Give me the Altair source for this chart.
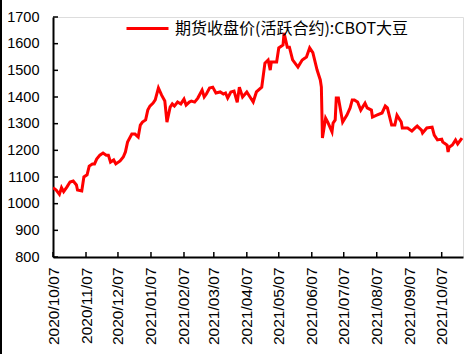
import altair as alt
import pandas as pd

series_name = "期货收盘价(活跃合约):CBOT大豆"

dates = [
    "2020/10/07", "2020/10/10", "2020/10/13", "2020/10/15", "2020/10/17", "2020/10/20",
    "2020/10/23", "2020/10/26", "2020/10/29", "2020/10/30", "2020/11/03", "2020/11/05",
    "2020/11/08", "2020/11/10", "2020/11/13", "2020/11/15", "2020/11/17", "2020/11/20",
    "2020/11/23", "2020/11/26", "2020/11/28", "2020/11/30", "2020/12/03", "2020/12/05",
    "2020/12/09", "2020/12/12", "2020/12/14", "2020/12/16", "2020/12/20", "2020/12/23",
    "2020/12/26", "2020/12/28", "2020/12/30", "2021/01/02", "2021/01/04", "2021/01/06",
    "2021/01/09", "2021/01/11", "2021/01/13", "2021/01/14", "2021/01/17", "2021/01/20",
    "2021/01/22", "2021/01/25", "2021/01/27", "2021/01/29", "2021/02/01", "2021/02/04",
    "2021/02/07", "2021/02/09", "2021/02/12", "2021/02/14", "2021/02/17", "2021/02/20",
    "2021/02/24", "2021/02/26", "2021/02/28", "2021/03/03", "2021/03/06", "2021/03/09",
    "2021/03/13", "2021/03/16", "2021/03/18", "2021/03/20", "2021/03/23", "2021/03/26",
    "2021/03/29", "2021/03/31", "2021/04/03", "2021/04/07", "2021/04/10", "2021/04/13",
    "2021/04/16", "2021/04/21", "2021/04/24", "2021/04/27", "2021/04/29", "2021/04/30",
    "2021/05/05", "2021/05/07", "2021/05/11", "2021/05/12", "2021/05/15", "2021/05/17",
    "2021/05/20", "2021/05/25", "2021/05/29", "2021/06/02", "2021/06/05", "2021/06/08",
    "2021/06/12", "2021/06/15", "2021/06/16", "2021/06/17", "2021/06/20", "2021/06/22",
    "2021/06/26", "2021/06/27", "2021/06/29", "2021/06/30", "2021/07/02", "2021/07/06",
    "2021/07/10", "2021/07/13", "2021/07/15", "2021/07/17", "2021/07/20", "2021/07/23",
    "2021/07/27", "2021/07/29", "2021/08/02", "2021/08/03", "2021/08/07", "2021/08/12",
    "2021/08/15", "2021/08/17", "2021/08/21", "2021/08/24", "2021/08/26", "2021/08/30",
    "2021/08/31", "2021/09/05", "2021/09/09", "2021/09/12", "2021/09/14", "2021/09/18",
    "2021/09/19", "2021/09/23", "2021/09/28", "2021/09/30", "2021/10/03", "2021/10/07",
    "2021/10/08", "2021/10/12", "2021/10/13", "2021/10/14", "2021/10/17", "2021/10/20",
    "2021/10/22", "2021/10/26",
]

prices = [
    1060, 1051, 1035, 1060, 1045, 1062,
    1081, 1085, 1070, 1051, 1048, 1100,
    1108, 1141, 1149, 1149, 1167, 1182,
    1190, 1182, 1182, 1156, 1164, 1149,
    1160, 1175, 1194, 1231, 1261, 1261,
    1250, 1295, 1306, 1314, 1351, 1366,
    1377, 1389, 1419, 1434, 1407, 1385,
    1306, 1362, 1374, 1366, 1381, 1374,
    1392, 1370, 1381, 1385, 1381, 1396,
    1426, 1400, 1411, 1434, 1437, 1415,
    1419, 1411, 1415, 1396, 1419, 1422,
    1380, 1437, 1400, 1419, 1400, 1381,
    1419, 1437, 1527, 1539, 1501, 1531,
    1531, 1584, 1595, 1640, 1587, 1587,
    1539, 1512, 1539, 1550, 1584, 1566,
    1501, 1464, 1437, 1246, 1321, 1306,
    1269, 1302, 1314, 1396, 1396, 1306,
    1332, 1359, 1389, 1389, 1381, 1351,
    1377, 1359, 1351, 1325, 1332, 1340,
    1366, 1359, 1295, 1295, 1332, 1306,
    1284, 1284, 1272, 1284, 1291, 1276,
    1265, 1284, 1287, 1257, 1239, 1242,
    1231, 1220, 1194, 1212, 1220, 1239,
    1224, 1246,
]

x_tick_months = [
    (2020, 10), (2020, 11), (2020, 12), (2021, 1), (2021, 2), (2021, 3), (2021, 4),
    (2021, 5), (2021, 6), (2021, 7), (2021, 8), (2021, 9), (2021, 10),
]
x_tick_dates = ["%d/%02d/07" % (y, m) for y, m in x_tick_months]
y_ticks = [800, 900, 1000, 1100, 1200, 1300, 1400, 1500, 1600, 1700]

df = pd.DataFrame({"date": dates, "price": prices, "series": series_name})
tick_df = pd.DataFrame({"date": x_tick_dates})
ytick_df = pd.DataFrame({"v": y_ticks})

x_values = [alt.DateTime(year=y, month=m, date=7) for y, m in x_tick_months]
x_scale = alt.Scale(domain=[alt.DateTime(year=2020, month=10, date=7),
                            alt.DateTime(year=2021, month=10, date=27)])
y_scale = alt.Scale(domain=[800, 1700], nice=False, zero=False)

x_axis = alt.Axis(values=x_values, format="%Y/%m/%d", labelAngle=-90,
                  title=None, grid=False, ticks=False, labelPadding=10,
                  labelFont="Liberation Sans", labelFontSize=15.5,
                  labelColor="black", domainColor="black", domainWidth=2,
                  labelOverlap=False, labelFlush=False, labelBound=False)
y_axis = alt.Axis(values=y_ticks, format="d", title=None, grid=False, ticks=False,
                  labelPadding=14, labelFont="Liberation Sans",
                  labelFontSize=14.5, labelColor="black", labelOverlap=False,
                  labelFlush=False, domainColor="black", domainWidth=2)

line = alt.Chart(df).mark_line(strokeWidth=3, clip=True).encode(
    x=alt.X("date:T", scale=x_scale, axis=x_axis),
    y=alt.Y("price:Q", scale=y_scale, axis=y_axis),
    color=alt.Color("series:N", scale=alt.Scale(range=["#ff0000"]),
                    legend=alt.Legend(title=None, orient="none", legendX=72,
                                      legendY=-11, symbolType="stroke",
                                      symbolSize=1764, symbolStrokeWidth=3,
                                      labelFont="Noto Sans CJK SC", labelFontSize=16,
                                      labelColor="black", labelLimit=400,
                                      labelOffset=5, padding=0)),
)

xticks = alt.Chart(tick_df).mark_rule(color="black", strokeWidth=1.5).encode(
    x=alt.X("date:T", scale=x_scale, axis=x_axis),
    y=alt.value(240),
    y2=alt.value(235),
)

yticks = alt.Chart(ytick_df).mark_rule(color="black", strokeWidth=1.5).encode(
    y=alt.Y("v:Q", scale=y_scale, axis=y_axis),
    x=alt.value(0),
    x2=alt.value(5),
)

border = alt.Chart(ytick_df).mark_rule(color="black", strokeWidth=2).encode(
    x=alt.value(-52),
    y=alt.value(-17),
    y2=alt.value(337),
)

chart = alt.layer(line, xticks, yticks, border).properties(
    width=410,
    height=240,
    autosize=alt.AutoSizeParams(type="none"),
    padding={"left": 53, "top": 17, "right": 10, "bottom": 97},
).configure_view(stroke=None).configure(background="white")

chart.save("out.html", embed_options={"renderer": "svg", "actions": False})
